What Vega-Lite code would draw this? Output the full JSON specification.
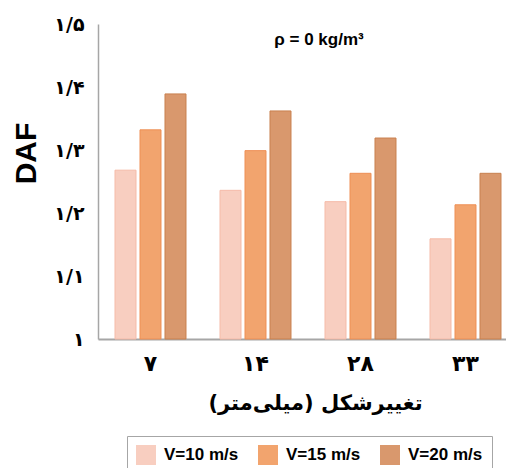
{
  "$schema": "https://vega.github.io/schema/vega-lite/v6.json",
  "autosize": {"type": "none"},
  "width": 408,
  "height": 315,
  "padding": {"left": 98, "top": 24, "right": 0, "bottom": 129},
  "background": "white",
  "title": {"text": "ρ = 0 kg/m³", "frame": "group", "anchor": "middle", "orient": "top", "offset": -27, "baseline": "bottom", "dx": 17, "dy": 24, "font": "Liberation Sans", "fontSize": 17, "fontWeight": "bold", "color": "#000"},
  "data": {"values": [
    {"def": "۷", "v": "V=10 m/s", "daf": 1.268},
    {"def": "۷", "v": "V=15 m/s", "daf": 1.332},
    {"def": "۷", "v": "V=20 m/s", "daf": 1.389},
    {"def": "۱۴", "v": "V=10 m/s", "daf": 1.236},
    {"def": "۱۴", "v": "V=15 m/s", "daf": 1.299},
    {"def": "۱۴", "v": "V=20 m/s", "daf": 1.362},
    {"def": "۲۸", "v": "V=10 m/s", "daf": 1.218},
    {"def": "۲۸", "v": "V=15 m/s", "daf": 1.263},
    {"def": "۲۸", "v": "V=20 m/s", "daf": 1.319},
    {"def": "۳۳", "v": "V=10 m/s", "daf": 1.159},
    {"def": "۳۳", "v": "V=15 m/s", "daf": 1.213},
    {"def": "۳۳", "v": "V=20 m/s", "daf": 1.263}
  ]},
  "mark": {"type": "bar", "strokeWidth": 1},
  "encoding": {
    "x": {"field": "def", "type": "nominal", "sort": null,
      "scale": {"range": [0, 420], "paddingInner": 0.324, "paddingOuter": 0.162},
      "axis": {"title": "تغییرشکل (میلی‌متر)‏", "titleFont": "DejaVu Sans", "titleFontSize": 21, "titleFontWeight": "bold", "titleColor": "#000", "titleX": 217, "titleY": 53, "titleBaseline": "top",
        "labelFont": "DejaVu Sans", "labelFontSize": 22, "labelFontWeight": "bold", "labelColor": "#000", "labelAngle": 0, "labelPadding": 14, "ticks": false, "tickSize": 0, "domainColor": "#a6a6a6", "domainWidth": 2}},
    "xOffset": {"field": "v", "type": "nominal", "sort": null, "scale": {"paddingInner": 0.16, "paddingOuter": 0}},
    "y": {"field": "daf", "type": "quantitative",
      "scale": {"domain": [1, 1.5], "zero": false, "nice": false},
      "axis": {"title": "DAF", "titleFont": "Liberation Sans", "titleFontSize": 30, "titleFontWeight": "bold", "titleColor": "#000", "titlePadding": 12, "titleY": 129,
        "values": [1, 1.1, 1.2, 1.3, 1.4, 1.5],
        "labelExpr": "datum.value == 1 ? '۱' : '۱/' + ['۰','۱','۲','۳','۴','۵','۶','۷','۸','۹'][round(datum.value*10) - 10]",
        "labelFont": "DejaVu Sans", "labelFontSize": 19, "labelFontWeight": "bold", "labelColor": "#000", "labelPadding": 14, "ticks": false, "tickSize": 0, "grid": false, "domainColor": "#a6a6a6", "domainWidth": 1.5}},
    "y2": {"datum": 1},
    "fill": {"field": "v", "type": "nominal", "sort": null,
      "scale": {"range": ["#F8CEC0", "#F2A46E", "#D9986D"]},
      "legend": {"title": null, "orient": "none", "legendX": 29, "legendY": 412, "direction": "horizontal", "symbolType": "square", "symbolSize": 400, "symbolStrokeWidth": 0, "symbolOpacity": 1,
        "labelFont": "Liberation Sans", "labelFontSize": 17, "labelFontWeight": "bold", "labelColor": "#000", "labelOffset": 8, "columnPadding": 19, "padding": 9, "strokeColor": "#a6a6a6", "fillColor": "white"}},
    "stroke": {"field": "v", "type": "nominal", "sort": null,
      "scale": {"range": ["#F5BBA8", "#EE8F55", "#C9804F"]}, "legend": null}
  },
  "config": {"view": {"stroke": null}}
}
